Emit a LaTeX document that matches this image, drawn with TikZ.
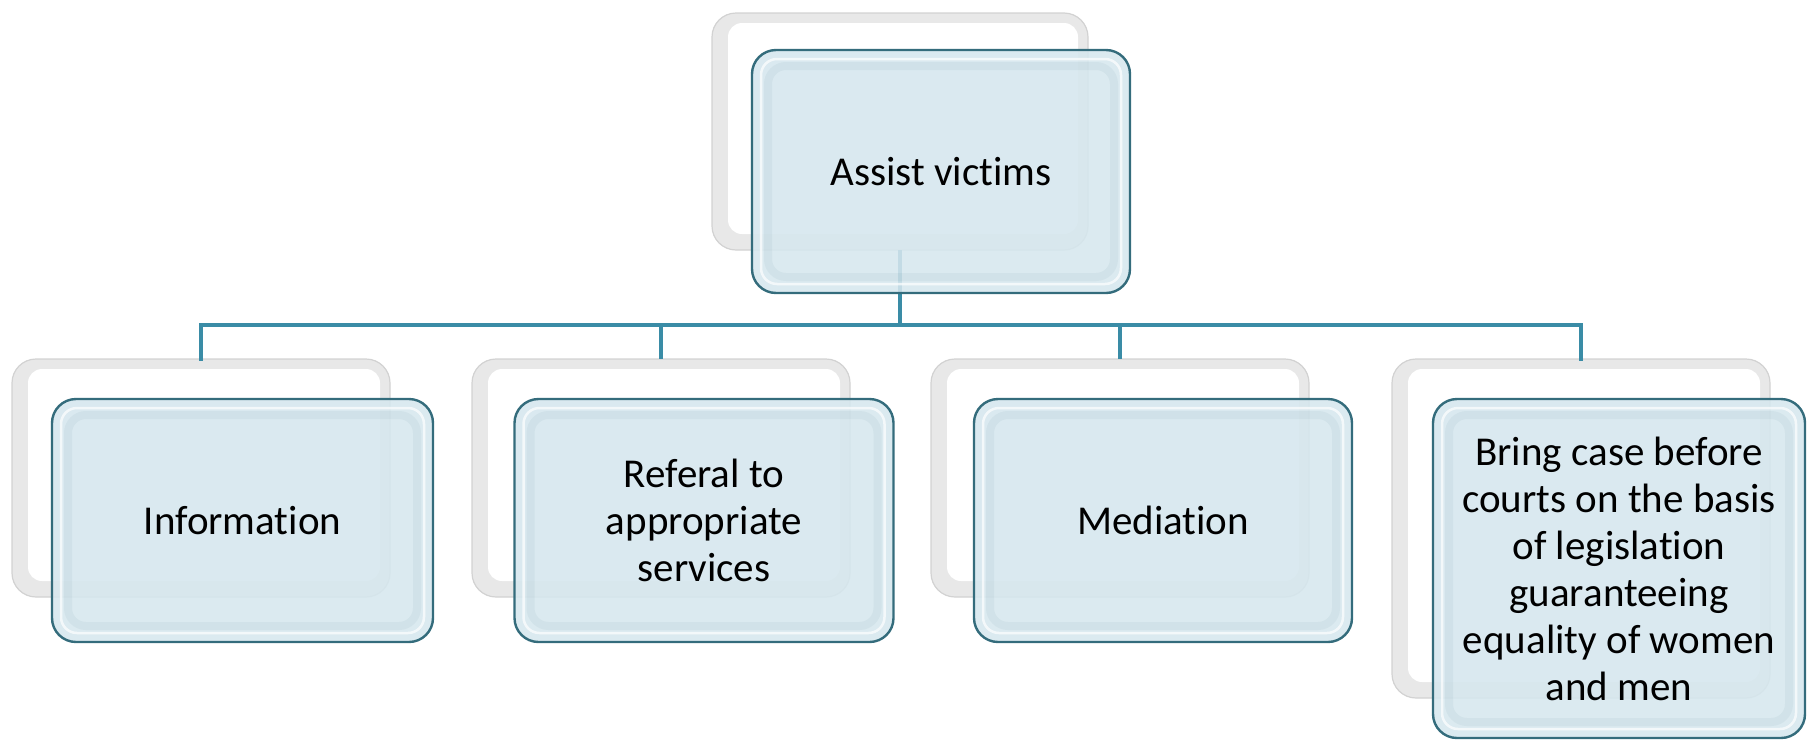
\documentclass[tikz,border=0pt]{standalone}
\usepackage{fontspec}
\setmainfont[RawFeature=-liga]{Carlito}
\definecolor{linec}{RGB}{58,140,166}
\definecolor{frontfill}{RGB}{214,231,238}
\definecolor{frontedge}{RGB}{52,108,124}
\definecolor{backrim}{RGB}{232,232,232}
\begin{document}
\begin{tikzpicture}[x=1pt,y=-1pt,
  backbox/.style={rounded corners=24pt, fill=backrim, draw=gray!35, line width=1.2pt,
    inner sep=0pt, outer sep=0pt,
    path picture={\fill[white, rounded corners=14pt]
      ([xshift=16pt,yshift=-10pt]path picture bounding box.north west) rectangle
      ([xshift=-10pt,yshift=16pt]path picture bounding box.south east);}},
  frontbox/.style={rounded corners=24pt, fill=frontfill, fill opacity=0.88, text opacity=1,
    draw=frontedge, line width=2.4pt, inner sep=0pt, outer sep=0pt, align=center,
    font=\fontsize{41}{47}\selectfont,
    path picture={
      \draw[white, opacity=0.7, line width=2.5pt, rounded corners=16pt]
      ([xshift=9pt,yshift=-9pt]path picture bounding box.north west) rectangle
      ([xshift=-9pt,yshift=9pt]path picture bounding box.south east);
      \draw[frontedge, opacity=0.06, line width=8pt, rounded corners=18pt]
      ([xshift=16pt,yshift=-16pt]path picture bounding box.north west) rectangle
      ([xshift=-16pt,yshift=16pt]path picture bounding box.south east);}},
  conn/.style={draw=linec, line width=4pt}
]
\useasboundingbox (0,0) rectangle (1807,742);

% back boxes
\node[backbox, minimum width=376pt, minimum height=237pt] (tb) at (900,131.5) {};
\node[backbox, minimum width=378pt, minimum height=238pt] (b1) at (201,478) {};
\node[backbox, minimum width=378pt, minimum height=238pt] (b2) at (661,478) {};
\node[backbox, minimum width=378pt, minimum height=238pt] (b3) at (1120,478) {};
\node[backbox, minimum width=378pt, minimum height=339pt] (b4) at (1581,528.5) {};

% connectors
\coordinate (bus) at (900,325);
\draw[conn] (tb.south) -- (bus);
\draw[conn, line cap=rect] (bus) -| (b1.north);
\draw[conn] (bus) -| (b2.north);
\draw[conn] (bus) -| (b3.north);
\draw[conn, line cap=rect] (bus) -| (b4.north);

% front boxes
\node[frontbox, minimum width=378pt, minimum height=243pt] (t) at (941,171.5) {Assist victims};
\node[frontbox, minimum width=381pt, minimum height=243pt] (f1) at (242.5,520.5) {Information};
\node[frontbox, minimum width=379pt, minimum height=243pt] (f2) at (704,520.5) {Referal to\\appropriate\\services};
\node[frontbox, minimum width=378pt, minimum height=243pt] (f3) at (1163,520.5) {Mediation};
\node[frontbox, minimum width=372pt, minimum height=339pt] (f4) at (1619,568.5) {Bring case before\\courts on the basis\\of legislation\\guaranteeing\\equality of women\\and men};
\end{tikzpicture}
\end{document}
